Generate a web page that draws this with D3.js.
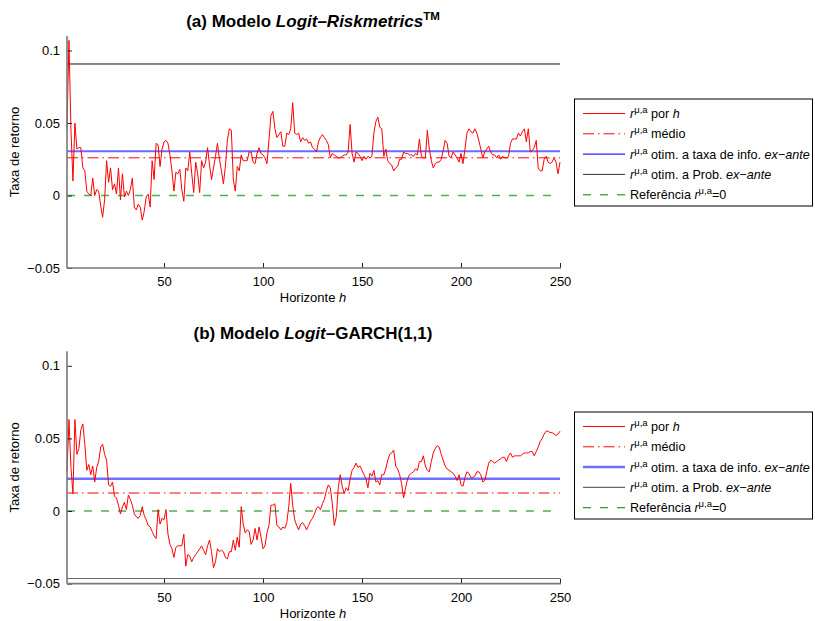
<!DOCTYPE html>
<html>
<head>
<meta charset="utf-8">
<script src="https://cdn.jsdelivr.net/npm/d3@7/dist/d3.min.js"></script>
<style>
  html, body { margin: 0; padding: 0; background: #fff; }
  svg { display: block; font-family: "Liberation Sans", Arial, Helvetica, sans-serif; }
</style>
</head>
<body>
<svg id="chart" width="815" height="621"></svg>
<script>
// ---------------- DATA ----------------
const horizons = d3.range(1, 251);

const rPorH_A = [
  0.047,0.107,0.045,0.010,0.050,0.032,0.033,0.033,0.019,0.017,
  0.003,0.001,0.000,0.012,0.000,0.004,0.003,-0.007,-0.015,-0.003,
  0.024,0.009,0.019,0.004,0.008,0.001,0.019,-0.003,0.015,-0.001,
  0.003,0.000,0.004,0.012,-0.008,-0.010,-0.006,-0.008,-0.017,-0.011,
  -0.001,0.001,-0.008,0.024,0.011,0.036,0.035,0.020,0.032,0.037,
  0.038,0.036,0.028,0.017,0.003,0.016,0.015,0.018,0.004,-0.004,
  0.019,0.017,0.030,0.015,0.002,0.023,0.015,0.002,0.024,0.019,
  0.023,0.033,0.021,0.011,0.019,0.027,0.036,0.025,0.017,0.008,
  0.020,0.038,0.046,0.045,0.011,0.003,0.020,0.017,0.028,0.024,
  0.024,0.024,0.030,0.030,0.023,0.022,0.029,0.033,0.029,0.028,
  0.026,0.022,0.038,0.055,0.058,0.046,0.040,0.042,0.044,0.034,
  0.034,0.043,0.042,0.046,0.064,0.043,0.042,0.043,0.037,0.040,
  0.038,0.039,0.036,0.037,0.033,0.032,0.030,0.037,0.040,0.042,
  0.040,0.038,0.035,0.026,0.029,0.028,0.027,0.026,0.026,0.027,
  0.028,0.028,0.030,0.049,0.029,0.023,0.030,0.029,0.027,0.024,
  0.027,0.025,0.027,0.026,0.027,0.043,0.051,0.054,0.047,0.046,
  0.027,0.032,0.024,0.022,0.021,0.017,0.019,0.020,0.025,0.025,
  0.030,0.029,0.029,0.028,0.028,0.027,0.029,0.028,0.039,0.027,
  0.026,0.026,0.045,0.032,0.024,0.019,0.022,0.023,0.023,0.025,
  0.031,0.038,0.036,0.027,0.026,0.030,0.028,0.026,0.023,0.029,
  0.022,0.032,0.043,0.046,0.044,0.043,0.046,0.043,0.038,0.032,
  0.026,0.030,0.032,0.034,0.030,0.028,0.028,0.026,0.028,0.025,
  0.027,0.026,0.026,0.027,0.036,0.039,0.039,0.039,0.043,0.041,
  0.044,0.046,0.037,0.046,0.030,0.031,0.033,0.038,0.019,0.017,
  0.017,0.025,0.027,0.023,0.022,0.023,0.026,0.023,0.015,0.023
];

const rPorH_B = [
  0.027,0.063,0.030,0.012,0.063,0.039,0.043,0.056,0.060,0.046,
  0.028,0.032,0.025,0.031,0.020,0.030,0.034,0.044,0.046,0.039,
  0.035,0.018,0.017,0.020,0.010,0.009,0.004,-0.002,0.003,0.006,
  0.001,0.011,0.008,0.004,-0.002,-0.004,-0.005,-0.003,0.003,-0.003,
  -0.006,-0.010,-0.011,-0.014,-0.017,-0.019,0.001,-0.009,-0.005,-0.006,
  0.001,-0.016,-0.023,-0.026,-0.032,-0.025,-0.024,-0.024,-0.024,-0.016,
  -0.038,-0.030,-0.031,-0.035,-0.032,-0.030,-0.028,-0.026,-0.024,-0.027,
  -0.030,-0.024,-0.020,-0.028,-0.039,-0.035,-0.026,-0.028,-0.027,-0.028,
  -0.032,-0.033,-0.028,-0.028,-0.020,-0.027,-0.018,-0.025,0.003,-0.009,
  -0.015,-0.013,-0.014,-0.023,-0.020,-0.012,-0.020,-0.011,-0.018,-0.026,
  -0.024,-0.015,-0.010,0.004,0.004,0.005,-0.010,-0.011,-0.013,-0.011,
  -0.012,-0.008,0.003,0.019,0.004,-0.006,-0.010,-0.013,-0.009,-0.008,
  -0.010,-0.013,-0.010,-0.007,-0.005,-0.002,0.002,0.003,0.001,0.005,
  0.008,0.014,0.018,0.016,0.005,-0.010,-0.004,0.016,0.025,0.017,
  0.012,0.016,0.014,0.022,0.028,0.030,0.033,0.030,0.031,0.028,
  0.025,0.022,0.016,0.026,0.024,0.028,0.020,0.021,0.018,0.025,
  0.025,0.029,0.035,0.039,0.040,0.042,0.031,0.029,0.025,0.019,
  0.009,0.016,0.022,0.025,0.026,0.027,0.029,0.028,0.034,0.034,
  0.038,0.031,0.028,0.027,0.034,0.040,0.043,0.045,0.044,0.039,
  0.035,0.031,0.029,0.028,0.027,0.026,0.024,0.021,0.025,0.018,
  0.017,0.023,0.027,0.026,0.023,0.023,0.024,0.027,0.027,0.025,
  0.020,0.021,0.027,0.033,0.035,0.034,0.033,0.034,0.035,0.036,
  0.037,0.037,0.034,0.038,0.040,0.037,0.038,0.038,0.038,0.038,
  0.039,0.040,0.040,0.040,0.041,0.041,0.038,0.041,0.044,0.048,
  0.050,0.053,0.055,0.055,0.054,0.054,0.053,0.052,0.053,0.055
];

// horizontal reference levels: [médio, otim. taxa info, otim. Prob, referência]
const levels_A = [0.026, 0.0305, 0.0907, 0];
const levels_B = [0.0124, 0.0222, -0.0465, 0];

const yTicks = [-0.05, 0, 0.05, 0.1];
const yTickLabels = ["\u22120.05", "0", "0.05", "0.1"];
const xTicks = [50, 100, 150, 200, 250];
const yDomain = [-0.05, 0.11];
const xDomain = [1, 250];

// ---------------- DRAW ----------------
const svg = d3.select("#chart");

function addR(textSel, tail) {
  textSel.append("tspan").attr("font-style", "italic").text("r");
  textSel.append("tspan").attr("font-size", "9.5px").attr("dy", -5).text("\u03bc,a");
  tail(textSel);
}

const panels = [
  {
    series: rPorH_A, levels: levels_A, top: 36, bottom: 268,
    titleY: 27, title: ["(a) Modelo ", "Logit\u2013Riskmetrics", "TM"],
    styles: {
      red: {stroke: "#ff0000", w: 1},
      medio: {stroke: "#ff0000", w: 1, dash: "11,4,1.5,4"},
      info: {stroke: "#6b6bff", w: 2, legendStroke: "#2222ff", legendW: 1.3},
      prob: {stroke: "#111", w: 1, legendStroke: "#333", legendW: 1},
      ref: {stroke: "#4caf50", w: 1.5, dash: "8,9"}
    },
    legendTop: 99, legendH: 107
  },
  {
    series: rPorH_B, levels: levels_B, top: 351.3, bottom: 583.6,
    titleY: 339, title: ["(b) Modelo ", "Logit", "\u2013GARCH(1,1)"],
    styles: {
      red: {stroke: "#ff0000", w: 1},
      medio: {stroke: "#ff0000", w: 1, dash: "11,4,1.5,4"},
      info: {stroke: "#7070ff", w: 2.5, legendStroke: "#7070ff", legendW: 2.5},
      prob: {stroke: "#666", w: 1, legendStroke: "#666", legendW: 1.2},
      ref: {stroke: "#008000", w: 1, dash: "8,9"}
    },
    legendTop: 412, legendH: 107
  }
];

panels.forEach((p, idx) => {
  const x = d3.scaleLinear().domain(xDomain).range([67, 560]);
  const y = d3.scaleLinear().domain(yDomain).range([p.bottom, p.top]);
  const g = svg.append("g");

  // Title
  const t = g.append("text").attr("x", 313).attr("y", p.titleY)
    .attr("text-anchor", "middle").attr("font-weight", "bold").attr("font-size", "17px");
  if (idx === 0) {
    t.append("tspan").text(p.title[0]);
    t.append("tspan").attr("font-style", "italic").text(p.title[1]);
    t.append("tspan").attr("font-size", "11.5px").attr("dy", -7).text(p.title[2]);
  } else {
    t.append("tspan").text(p.title[0]);
    t.append("tspan").attr("font-style", "italic").text(p.title[1]);
    t.append("tspan").text(p.title[2]);
  }

  // Y label
  g.append("text")
    .attr("transform", `translate(19,${(p.top + p.bottom) / 2}) rotate(-90)`)
    .attr("text-anchor", "middle").attr("font-size", "13px").text("Taxa de retorno");

  // X label
  const xl = g.append("text").attr("x", 313).attr("y", p.bottom + 34)
    .attr("text-anchor", "middle").attr("font-size", "13px");
  xl.append("tspan").text("Horizonte ");
  xl.append("tspan").attr("font-style", "italic").text("h");

  // Horizontal level lines
  const st = p.styles;
  const lv = p.levels;
  const hline = (v, s, x1, x2) => {
    if (v < yDomain[0] || v > yDomain[1]) return;
    g.append("line").attr("x1", x(x1)).attr("x2", x(x2))
      .attr("y1", y(v)).attr("y2", y(v))
      .attr("stroke", s.stroke).attr("stroke-width", s.w)
      .attr("stroke-dasharray", s.dash || null);
  };
  hline(lv[3], st.ref, 1, 247);
  hline(lv[2], st.prob, 1, 250);
  hline(lv[0], st.medio, 1, 250);
  hline(lv[1], st.info, 1, 250);

  // Series line
  const line = d3.line().x((d, i) => x(horizons[i])).y(d => y(d));
  g.append("path").datum(p.series).attr("d", line)
    .attr("fill", "none").attr("stroke", st.red.stroke).attr("stroke-width", st.red.w)
    .attr("stroke-linejoin", "round");

  // Axes
  const yAxis = d3.axisLeft(y).tickValues(yTicks)
    .tickFormat((d, i) => yTickLabels[i]).tickSizeInner(-5).tickSizeOuter(0).tickPadding(7);
  const ya = g.append("g").attr("transform", "translate(67,0)").call(yAxis);
  const xAxis = d3.axisBottom(x).tickValues(xTicks).tickSizeInner(-5).tickSizeOuter(0).tickPadding(9);
  const xa = g.append("g").attr("transform", `translate(0,${p.bottom})`).call(xAxis);
  [ya, xa].forEach(a => {
    a.select(".domain").remove();
    a.selectAll(".tick line").attr("stroke", "#222");
    a.selectAll("text").attr("font-size", "13px")
      .attr("font-family", '"Liberation Sans", Arial, sans-serif').attr("fill", "#000");
  });
  g.append("line").attr("x1", 67).attr("x2", 67).attr("y1", p.top).attr("y2", p.bottom)
    .attr("stroke", "#777").attr("stroke-width", 1.6);
  g.append("line").attr("x1", 67).attr("x2", 561).attr("y1", p.bottom).attr("y2", p.bottom)
    .attr("stroke", "#777").attr("stroke-width", 1.6);

  // Legend
  const lg = g.append("g");
  lg.append("rect").attr("x", 574.5).attr("y", p.legendTop).attr("width", 238).attr("height", p.legendH)
    .attr("fill", "#fff").attr("stroke", "#000").attr("stroke-width", 1);
  const rows = [
    {s: st.red, text: sel => addR(sel, s => { s.append("tspan").attr("dy", 5).text(" por "); s.append("tspan").attr("font-style", "italic").text("h"); })},
    {s: st.medio, text: sel => addR(sel, s => { s.append("tspan").attr("dy", 5).text(" médio"); })},
    {s: st.info, text: sel => addR(sel, s => { s.append("tspan").attr("dy", 5).text(" otim. a taxa de info. "); s.append("tspan").attr("font-style", "italic").text("ex\u2212ante"); })},
    {s: st.prob, text: sel => addR(sel, s => { s.append("tspan").attr("dy", 5).text(" otim. a Prob. "); s.append("tspan").attr("font-style", "italic").text("ex\u2212ante"); })},
    {s: st.ref, text: sel => { sel.append("tspan").text("Referência "); sel.append("tspan").attr("font-style", "italic").text("r"); sel.append("tspan").attr("font-size", "9.5px").attr("dy", -5).text("\u03bc,a"); sel.append("tspan").attr("dy", 5).text("=0"); }}
  ];
  rows.forEach((r, i) => {
    const cy = p.legendTop + 14.5 + i * 20.3;
    lg.append("line").attr("x1", 583).attr("x2", 625).attr("y1", cy).attr("y2", cy)
      .attr("stroke", r.s.legendStroke || r.s.stroke).attr("stroke-width", r.s.legendW || r.s.w)
      .attr("stroke-dasharray", r.s.dash || null);
    const tx = lg.append("text").attr("x", 630).attr("y", cy + 4.5).attr("font-size", "12.6px");
    r.text(tx);
  });
});
</script>
</body>
</html>
